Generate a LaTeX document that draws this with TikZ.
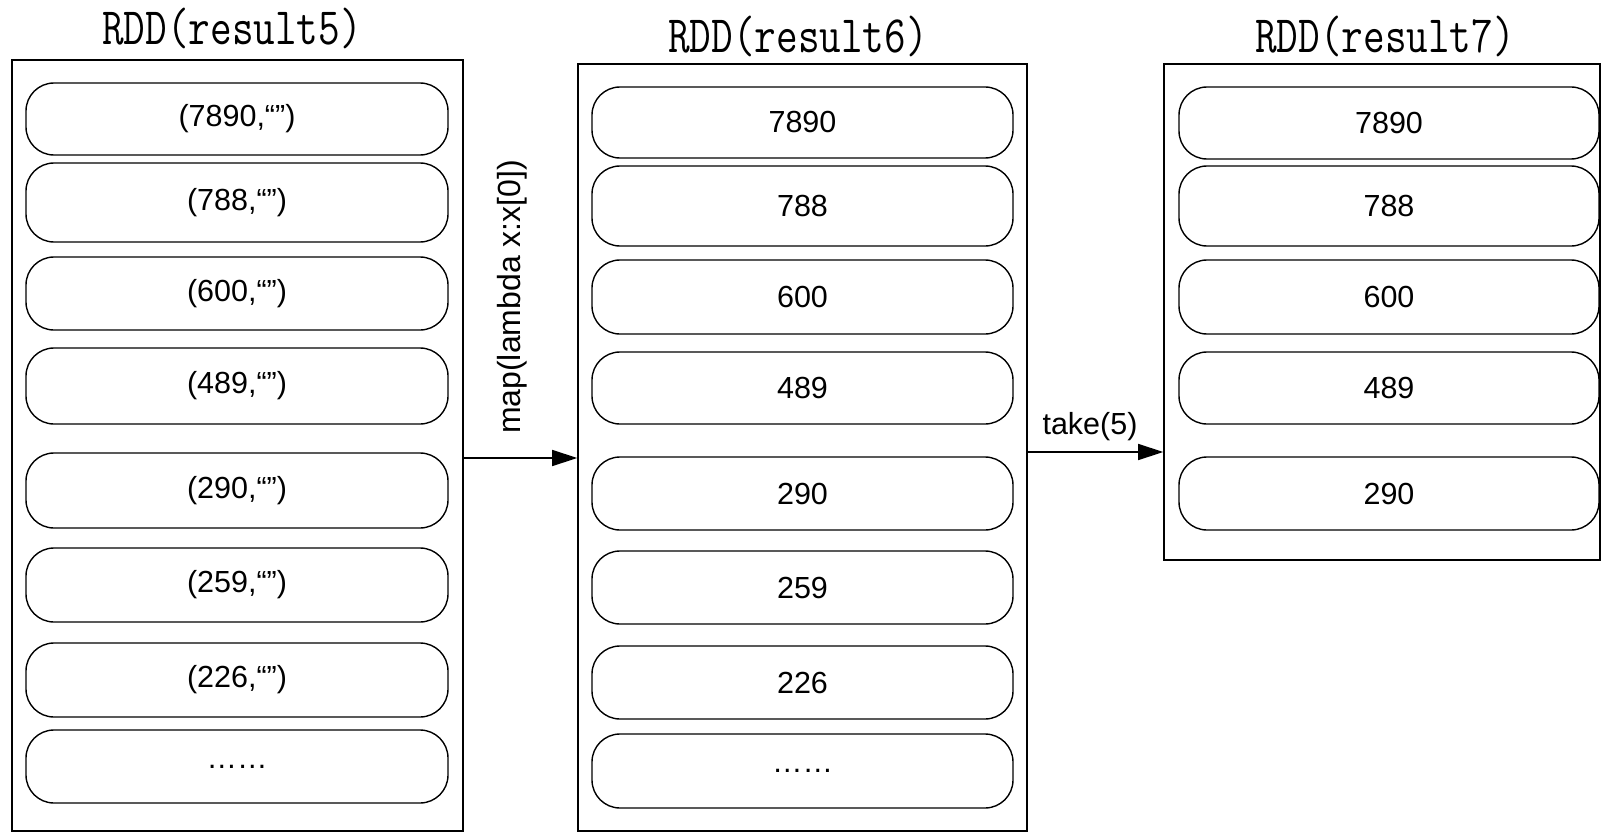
\documentclass[tikz,border=0pt]{standalone}
\usepackage{fontspec}
\setmainfont{Liberation Sans}
\usetikzlibrary{arrows.meta}
\newcommand{\rddname}[1]{\scalebox{1}[1.25]{\ttfamily #1}}

\begin{document}
\begin{tikzpicture}[x=1pt,y=-1pt]
	\tikzstyle{RDD}=[draw=black,line width=1.6pt,inner sep=0pt]
	\tikzstyle{item}=[draw=black,line width=1.4pt,rounded corners=28pt,font=\fontsize{30.5}{36}\selectfont]
	\tikzstyle{title}=[font=\fontsize{42}{46}\selectfont]
	\tikzstyle{arr}=[line width=1.6pt,-{Triangle[length=25pt,width=16pt]}]
	\useasboundingbox (0,0) rectangle (1601,832);

	% outer boxes
	\node[RDD,minimum width=451pt,minimum height=771pt] (r5) at (237.5,445.5) {};
	\node[RDD,minimum width=449pt,minimum height=767pt] (r6) at (802.5,447.5) {};
	\node[RDD,minimum width=436pt,minimum height=496pt] (r7) at (1382,312) {};

	\node[title] (t5) at (232,28) {\rddname{RDD(result5)}};
	\node[title] (t6) at (798,36) {\rddname{RDD(result6)}};
	\node[title] (t7) at (1385,36) {\rddname{RDD(result7)}};

	% result5
	\begin{scope}[every node/.style={item,minimum width=422pt}]
	\node[minimum height=72pt] (r5-1) at (237,119)   {(7890,“”)};
	\node[minimum height=79pt] (r5-2) at (237,202.5) {(788,“”)};
	\node[minimum height=73pt] (r5-3) at (237,293.5) {(600,“”)};
	\node[minimum height=76pt] (r5-4) at (237,386)   {(489,“”)};
	\node[minimum height=75pt] (r5-5) at (237,490.5) {(290,“”)};
	\node[minimum height=74pt] (r5-6) at (237,585)   {(259,“”)};
	\node[minimum height=74pt] (r5-7) at (237,680)   {(226,“”)};
	\node[minimum height=73pt] (r5-8) at (237,766.5) {……};
	\end{scope}

	% result6
	\begin{scope}[every node/.style={item,minimum width=421pt}]
	\node[minimum height=71pt] (r6-1) at (802.5,122.5) {7890};
	\node[minimum height=80pt] (r6-2) at (802.5,206)   {788};
	\node[minimum height=74pt] (r6-3) at (802.5,297)   {600};
	\node[minimum height=72pt] (r6-4) at (802.5,388)   {489};
	\node[minimum height=73pt] (r6-5) at (802.5,493.5) {290};
	\node[minimum height=73pt] (r6-6) at (802.5,587.5) {259};
	\node[minimum height=73pt] (r6-7) at (802.5,682.5) {226};
	\node[minimum height=74pt] (r6-8) at (802.5,771)   {……};
	\end{scope}

	% result7
	\begin{scope}[every node/.style={item,minimum width=420pt}]
	\node[minimum height=72pt] (r7-1) at (1389,123)   {7890};
	\node[minimum height=80pt] (r7-2) at (1389,206)   {788};
	\node[minimum height=74pt] (r7-3) at (1389,297)   {600};
	\node[minimum height=72pt] (r7-4) at (1389,388)   {489};
	\node[minimum height=73pt] (r7-5) at (1389,493.5) {290};
	\end{scope}

	% transformations
	\node[rotate=90,font=\fontsize{32}{36}\selectfont] (map) at (512,297) {map(lambda x:x[0])};
	\node[font=\fontsize{30.5}{36}\selectfont] (take) at (1090,427) {take(5)};

	\draw[arr] ([yshift=-12.5pt]r5.east) -- ([yshift=-12.5pt]r5.east -| r6.west);
	\draw[arr] ([yshift=-4.5pt]r6.east) -- ([yshift=-4.5pt]r6.east -| r7.west);
\end{tikzpicture}
\end{document}
